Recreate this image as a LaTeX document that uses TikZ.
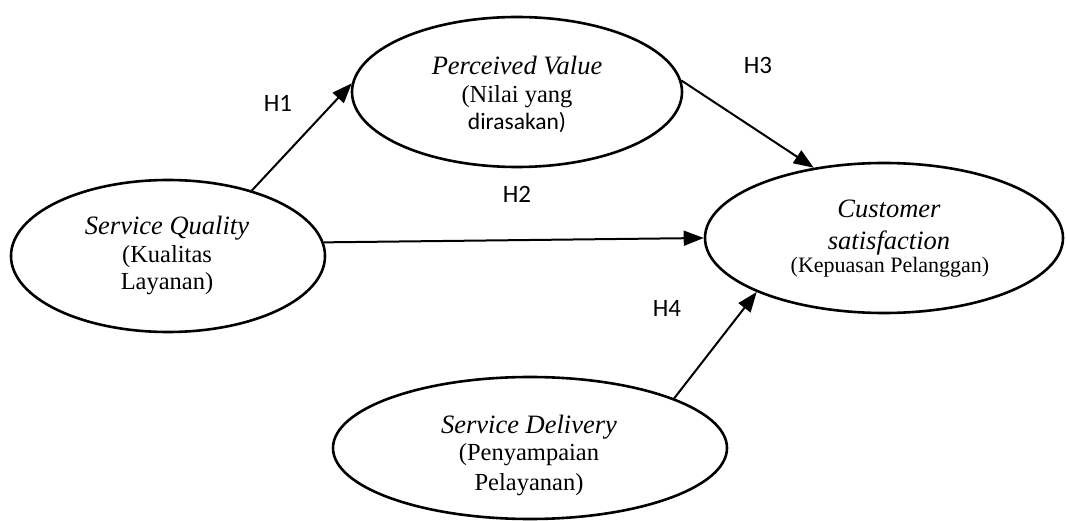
\documentclass[tikz,border=0pt]{standalone}
\usepackage{fontspec}
\setmainfont{Liberation Serif}
\newfontfamily\hfont{Carlito}
\usetikzlibrary{shapes.geometric,arrows.meta}
\begin{document}
\begin{tikzpicture}[x=1pt,y=-1pt,
  construct/.style={draw, ellipse, line width=2.6pt, inner sep=0pt},
  hlabel/.style={font=\hfont\fontsize{25}{29}\selectfont, inner sep=0pt, anchor=base},
  itline/.style={font=\fontsize{26.5}{30}\selectfont\itshape, inner sep=0pt, anchor=base},
  rmline/.style={font=\fontsize{24.5}{28}\selectfont, inner sep=0pt, anchor=base},
  smline/.style={font=\fontsize{22}{26}\selectfont, inner sep=0pt, anchor=base},
  sfline/.style={font=\hfont\fontsize{23.5}{27}\selectfont, inner sep=0pt, anchor=base},
  link/.style={-{Triangle[length=20pt,width=15pt]}, line width=2pt}
]
\useasboundingbox (0,0) rectangle (1066,521);

% ellipses
\node[construct, minimum width=314pt, minimum height=152pt] (sq) at (168,256) {};
\node[construct, minimum width=330pt, minimum height=150pt] (pv) at (517,92) {};
\node[construct, minimum width=358pt, minimum height=150pt] (cs) at (884,238) {};
\node[construct, minimum width=394pt, minimum height=142pt] (sd) at (530,448) {};

% texts
\node[itline] (sqa) at (167,235) {Service Quality};
\node[rmline] (sqb) at (167,263) {(Kualitas};
\node[rmline] (sqc) at (167,290) {Layanan)};

\node[itline] (pva) at (517,75) {Perceived Value};
\node[rmline] (pvb) at (517,103) {(Nilai yang};
\node[sfline] (pvc) at (517,130) {dirasakan)};

\node[itline] (csa) at (889,218) {Customer};
\node[itline] (csb) at (889,250) {satisfaction};
\node[smline] (csc) at (890,273) {(Kepuasan Pelanggan)};

\node[itline] (sda) at (529,433) {Service Delivery};
\node[rmline] (sdb) at (529,460) {(Penyampaian};
\node[rmline] (sdc) at (529,490) {Pelayanan)};

% connectors
\draw[link] (sq.38) -- (pv.177);
\draw[link] (sq.5) -- (cs.180);
\draw[link] (pv.4) -- (cs.135);
\draw[link] (sd.19) -- (cs.203);

% hypothesis labels
\node[hlabel] (h1) at (278,112) {H1};
\node[hlabel] (h2) at (517,203) {H2};
\node[hlabel] (h3) at (758,74) {H3};
\node[hlabel] (h4) at (667,317) {H4};
\end{tikzpicture}
\end{document}
